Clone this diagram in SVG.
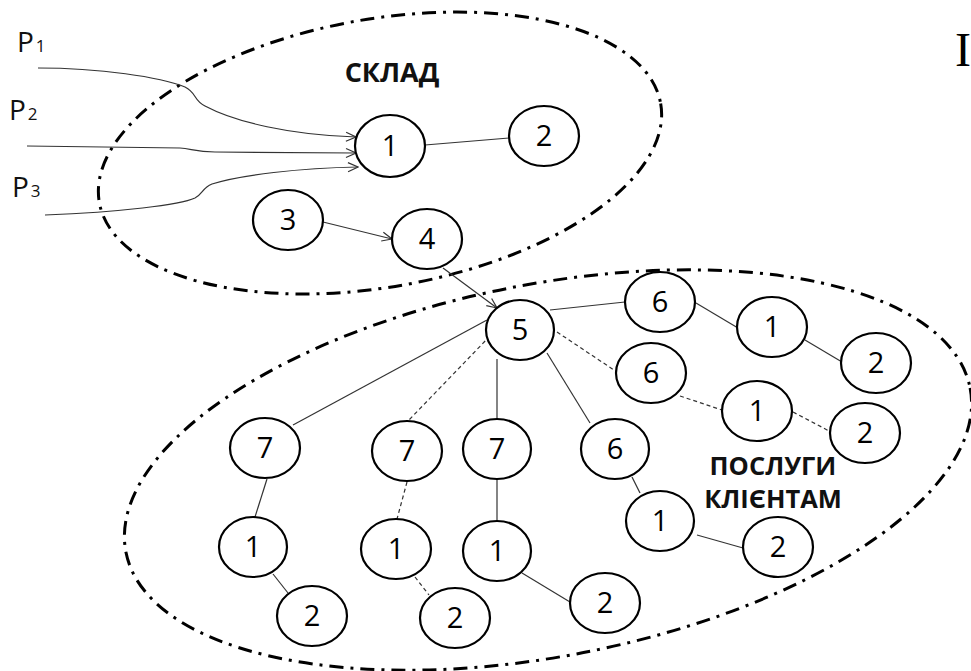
<svg xmlns="http://www.w3.org/2000/svg" width="971" height="671" viewBox="0 0 971 671">
<style>
.bg{fill:#fff}
.zone{fill:none;stroke:#000;stroke-width:3;stroke-dasharray:14 7 3 7}
.n ellipse{fill:#fff;stroke:#000;stroke-width:2.2}
.n text{font-family:"Open Sans","Liberation Sans",sans-serif;font-size:29px;text-anchor:middle;fill:#000}
.e{fill:none;stroke:#333;stroke-width:1.2}
.d{stroke-dasharray:4 3}
.lbl{font-family:"Open Sans","Liberation Sans",sans-serif;font-weight:bold;font-size:25.5px;fill:#111;text-anchor:middle}
.p{font-family:"Open Sans","Liberation Sans",sans-serif;font-size:28px;fill:#111}
.ps{font-size:17px}
</style>
<defs>
<marker id="arr" markerWidth="12" markerHeight="12" refX="11" refY="6" orient="auto" markerUnits="userSpaceOnUse">
<path d="M1,1.5 L11,6 L1,10.5" fill="none" stroke="#333" stroke-width="1.2"/>
</marker>
</defs>
<rect class="bg" x="0" y="0" width="971" height="671"/>
<g id="zones">
<ellipse class="zone" cx="380" cy="153" rx="285" ry="134" transform="rotate(-10 380 153)"/>
<ellipse class="zone" cx="548" cy="470" rx="430" ry="186" transform="rotate(-11 548 470)"/>
</g>
<g id="connectors">
<path class="e" marker-end="url(#arr)" d="M38,68 C100,68 160,77 185,87 C197,93 193,100 205,106 C235,122 290,135 356,137"/>
<path class="e" marker-end="url(#arr)" d="M27,146 L180,148 C192,149 196,152 215,152 L356,153"/>
<path class="e" marker-end="url(#arr)" d="M45,215 C120,212 180,205 195,198 C203,194 202,188 212,184 C240,175 300,168 358,167"/>
<line class="e" x1="425" y1="145" x2="509" y2="138"/>
<line class="e" marker-end="url(#arr)" x1="323" y1="222" x2="392" y2="239"/>
<line class="e" marker-end="url(#arr)" x1="443" y1="268" x2="497" y2="308"/>
<line class="e" x1="550" y1="310" x2="625" y2="302"/>
<line class="e" x1="696" y1="303" x2="738" y2="328"/>
<line class="e" x1="805" y1="340" x2="842" y2="362"/>
<line class="e d" x1="557" y1="332" x2="617" y2="372"/>
<line class="e d" x1="680" y1="396" x2="722" y2="410"/>
<line class="e d" x1="793" y1="412" x2="831" y2="432"/>
<line class="e" x1="547" y1="353" x2="590" y2="423"/>
<line class="e" x1="632" y1="477" x2="640" y2="493"/>
<line class="e" x1="697" y1="535" x2="743" y2="548"/>
<line class="e" x1="497" y1="359" x2="497" y2="419"/>
<line class="e" x1="497" y1="479" x2="497" y2="521"/>
<line class="e" x1="522" y1="573" x2="570" y2="602"/>
<line class="e" x1="487" y1="320" x2="293" y2="425"/>
<line class="e d" x1="490" y1="336" x2="408" y2="421"/>
<line class="e" x1="267" y1="479" x2="255" y2="517"/>
<line class="e" x1="273" y1="574" x2="288" y2="593"/>
<line class="e d" x1="407" y1="482" x2="397" y2="519"/>
<line class="e d" x1="415" y1="577" x2="429" y2="595"/>
</g>
<g id="n1a" class="n"><ellipse cx="390" cy="146" rx="35" ry="31"/><text x="390" y="156">1</text></g>
<g id="n2a" class="n"><ellipse cx="544" cy="136" rx="35" ry="30"/><text x="544" y="146">2</text></g>
<g id="n3" class="n"><ellipse cx="288" cy="220" rx="35" ry="30"/><text x="288" y="230">3</text></g>
<g id="n4" class="n"><ellipse cx="427" cy="239" rx="35" ry="30"/><text x="427" y="249">4</text></g>
<g id="n5" class="n"><ellipse cx="520" cy="330" rx="34" ry="30"/><text x="520" y="340">5</text></g>
<g id="n6a" class="n"><ellipse cx="660" cy="302" rx="35" ry="30"/><text x="660" y="312">6</text></g>
<g id="n1b" class="n"><ellipse cx="772" cy="327" rx="35" ry="30"/><text x="772" y="337">1</text></g>
<g id="n2b" class="n"><ellipse cx="876" cy="363" rx="35" ry="30"/><text x="876" y="373">2</text></g>
<g id="n6b" class="n"><ellipse cx="651" cy="373" rx="35" ry="30"/><text x="651" y="383">6</text></g>
<g id="n1c" class="n"><ellipse cx="757" cy="411" rx="35" ry="30"/><text x="757" y="421">1</text></g>
<g id="n2c" class="n"><ellipse cx="865" cy="433" rx="35" ry="30"/><text x="865" y="443">2</text></g>
<g id="n6c" class="n"><ellipse cx="615" cy="449" rx="34" ry="30"/><text x="615" y="459">6</text></g>
<g id="n1d" class="n"><ellipse cx="660" cy="521" rx="34" ry="30"/><text x="660" y="531">1</text></g>
<g id="n2d" class="n"><ellipse cx="778" cy="547" rx="35" ry="30"/><text x="778" y="557">2</text></g>
<g id="n7c" class="n"><ellipse cx="497" cy="449" rx="34" ry="30"/><text x="497" y="459">7</text></g>
<g id="n1e" class="n"><ellipse cx="497" cy="551" rx="34" ry="30"/><text x="497" y="561">1</text></g>
<g id="n2e" class="n"><ellipse cx="605" cy="603" rx="35" ry="30"/><text x="605" y="613">2</text></g>
<g id="n7a" class="n"><ellipse cx="265" cy="448" rx="35" ry="30"/><text x="265" y="458">7</text></g>
<g id="n1f" class="n"><ellipse cx="253" cy="547" rx="34" ry="30"/><text x="253" y="557">1</text></g>
<g id="n2f" class="n"><ellipse cx="312" cy="616" rx="35" ry="30"/><text x="312" y="626">2</text></g>
<g id="n7b" class="n"><ellipse cx="407" cy="451" rx="35" ry="30"/><text x="407" y="461">7</text></g>
<g id="n1g" class="n"><ellipse cx="396" cy="549" rx="35" ry="30"/><text x="396" y="559">1</text></g>
<g id="n2g" class="n"><ellipse cx="455" cy="618" rx="35" ry="30"/><text x="455" y="628">2</text></g>
<g id="labels">
<text class="lbl" x="392" y="82" style="font-size:27px">СКЛАД</text>
<text class="lbl" x="773" y="475">ПОСЛУГИ</text>
<text class="lbl" x="773" y="508">КЛІЄНТАМ</text>
<text class="p" x="17" y="52">P<tspan class="ps" dx="2">1</tspan></text>
<text class="p" x="9" y="120">P<tspan class="ps" dx="2">2</tspan></text>
<text class="p" x="12" y="197">P<tspan class="ps" dx="2">3</tspan></text>
<text x="955" y="66" style="font-family:'Liberation Serif',serif;font-size:48px;fill:#000">I</text>
</g>
</svg>
